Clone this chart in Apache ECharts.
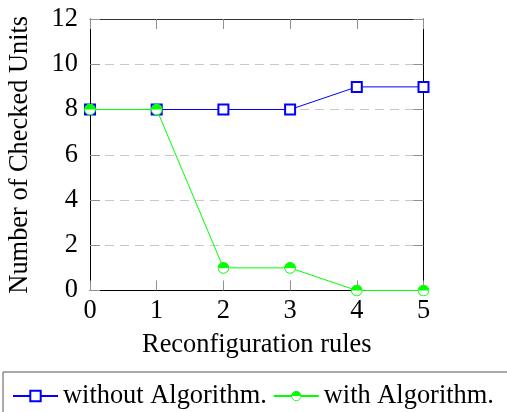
<!DOCTYPE html>
<html>
<head>
<meta charset="utf-8">
<script src="https://cdn.jsdelivr.net/npm/echarts@6/dist/echarts.min.js"></script>
<style>html,body{margin:0;padding:0;background:#fff}#c{width:507px;height:412px}</style>
</head>
<body>
<div id="c"></div>
<script>
const categories = [0, 1, 2, 3, 4, 5];
const withoutAlgorithm = [8, 8, 8, 8, 9, 9];
const withAlgorithm = [8, 8, 1, 1, 0, 0];
const yTicks = [0, 2, 4, 6, 8, 10, 12];
const seriesNames = ['without Algorithm.', 'with Algorithm.'];

const FONT = 'Liberation Serif';
const FS = 26.4;
const svg = '<svg xmlns="http://www.w3.org/2000/svg" width="24" height="24" viewBox="0 0 24 24">' +
  '<circle cx="12" cy="12" r="10.8" fill="#ffffff" stroke="#00ff00" stroke-width="2"/>' +
  '<path d="M1.2 12 A10.8 10.8 0 0 1 22.8 12 Z" fill="#00ff00"/></svg>';
const halfCircle = 'image://data:image/svg+xml;utf8,' + encodeURIComponent(svg);

function ticks() {
  return {show: true, inside: true, length: 10, lineStyle: {color: '#909090', width: 1}};
}

const chart = echarts.init(document.getElementById('c'), null, {renderer: 'canvas'});
chart.setOption({
  animation: false,
  backgroundColor: '#fff',
  textStyle: {fontFamily: FONT},
  grid: {left: 90, right: 83.5, top: 19, bottom: 121.5, containLabel: false, outerBoundsMode: 'none'},
  legend: {
    left: 3, top: 372, width: 600,
    padding: [11, 20, 11, 9],
    borderColor: '#555', borderWidth: 1,
    itemWidth: 45, itemHeight: 13, itemGap: 6,
    textStyle: {fontFamily: FONT, fontSize: FS, color: '#000'},
    data: seriesNames
  },
  xAxis: [{
    type: 'value', min: categories[0], max: categories[categories.length - 1], interval: 1,
    name: 'Reconfiguration rules', nameLocation: 'middle', nameGap: 42,
    nameTextStyle: {fontFamily: FONT, fontSize: FS, color: '#000'},
    axisLine: {show: true, onZero: false, lineStyle: {color: '#000', width: 1}},
    axisTick: ticks(),
    axisLabel: {fontFamily: FONT, fontSize: FS, color: '#000', margin: 8},
    splitLine: {show: false}
  }, {
    type: 'value', position: 'top', min: categories[0], max: categories[categories.length - 1], interval: 1,
    axisLine: {show: true, onZero: false, lineStyle: {color: '#333', width: 1}},
    axisTick: ticks(), axisLabel: {show: false}, splitLine: {show: false}
  }],
  yAxis: [{
    type: 'value', min: yTicks[0], max: yTicks[yTicks.length - 1], interval: 2,
    name: 'Number of Checked Units', nameLocation: 'middle', nameGap: 57,
    nameTextStyle: {fontFamily: FONT, fontSize: FS, color: '#000'},
    axisLine: {show: true, onZero: false, lineStyle: {color: '#000', width: 1}},
    axisTick: ticks(),
    axisLabel: {fontFamily: FONT, fontSize: FS, color: '#000', margin: 12},
    splitLine: {show: true, lineStyle: {color: '#c8c8c8', type: [9, 6], width: 1}}
  }, {
    type: 'value', position: 'right', min: yTicks[0], max: yTicks[yTicks.length - 1], interval: 2,
    axisLine: {show: true, onZero: false, lineStyle: {color: '#000', width: 1}},
    axisTick: ticks(), axisLabel: {show: false}, splitLine: {show: false}
  }],
  series: [{
    name: seriesNames[0], type: 'line',
    data: categories.map((c, i) => [c, withoutAlgorithm[i]]),
    symbol: 'emptyRect', symbolSize: 10,
    lineStyle: {color: '#0000ff', width: 1},
    itemStyle: {color: '#0000ff', borderWidth: 1},
    z: 2
  }, {
    name: seriesNames[1], type: 'line',
    data: categories.map((c, i) => [c, withAlgorithm[i]]),
    symbol: halfCircle, symbolSize: 12,
    lineStyle: {color: '#00ff00', width: 1},
    itemStyle: {color: '#00ff00'},
    z: 3
  }]
});
</script>
</body>
</html>
